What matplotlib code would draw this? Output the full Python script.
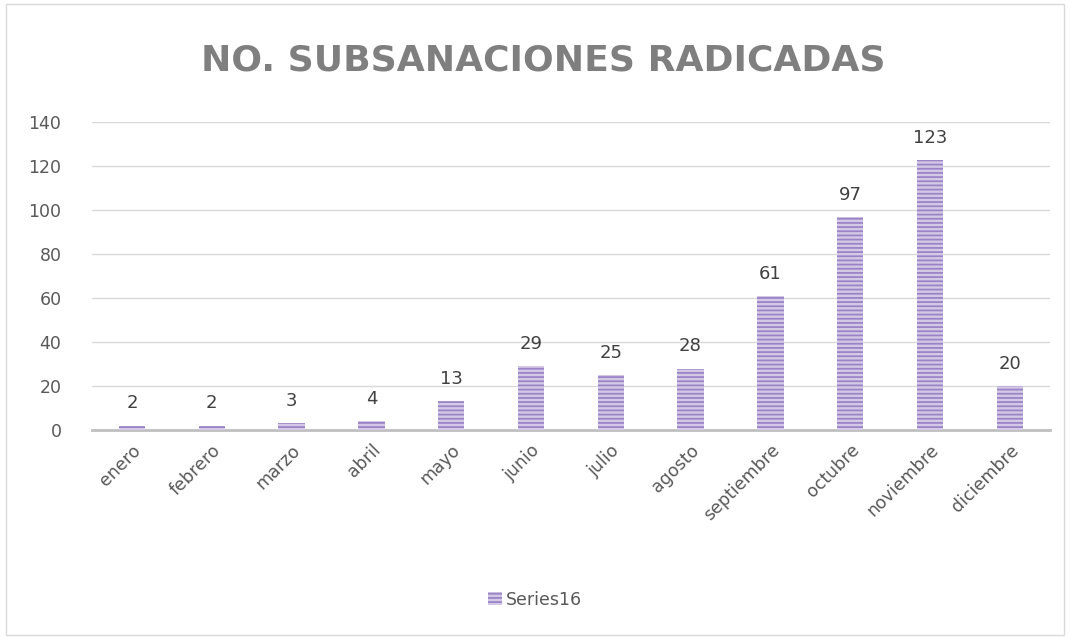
import matplotlib
matplotlib.use('Agg')
import matplotlib.pyplot as plt
from matplotlib.patches import Rectangle
import numpy as np

months = ['enero', 'febrero', 'marzo', 'abril', 'mayo', 'junio', 'julio',
          'agosto', 'septiembre', 'octubre', 'noviembre', 'diciembre']
values = [2, 2, 3, 4, 13, 29, 25, 28, 61, 97, 123, 20]
series_name = 'Series16'
title = 'NO. SUBSANACIONES RADICADAS'

plt.rcParams['hatch.linewidth'] = 1.3

fig = plt.figure(figsize=(10.7, 6.38), dpi=100)
fig.patches.append(Rectangle((0.006, 0.004), 0.988, 0.99, transform=fig.transFigure,
                             fill=False, edgecolor='#d9d9d9', linewidth=1.0))
ax = fig.add_axes([0.086, 0.326, 0.895, 0.482])

x = np.arange(len(months))
bars = ax.bar(x, values, width=0.33, color='#d3c9e7', edgecolor='#9b84c6',
              hatch='----', linewidth=0, label=series_name, zorder=3)

for xi, v in zip(x, values):
    ax.text(xi, v + 6, str(v), ha='center', va='bottom', fontsize=13, color='#404040')

ax.set_xlim(-0.5, len(months) - 0.5)
ax.set_ylim(0, 140)
ax.set_yticks(range(0, 141, 20))
ax.grid(axis='y', color='#d9d9d9', linewidth=1, zorder=0)
for s in ['top', 'right', 'left']:
    ax.spines[s].set_visible(False)
ax.spines['bottom'].set_color('#bfbfbf')
ax.spines['bottom'].set_linewidth(2)
ax.tick_params(axis='both', length=0, colors='#595959', labelsize=12.5)
ax.tick_params(axis='y', pad=22)
ax.set_xticks(x)
ax.set_xticklabels(months, rotation=45, ha='right', rotation_mode='anchor')
ax.tick_params(axis='x', pad=8)

fig.text(0.508, 0.905, title, ha='center', va='center', fontsize=26,
         fontweight='bold', color='#7f7f7f')

leg = ax.legend(loc='center', bbox_to_anchor=(0.5, 0.06), bbox_transform=fig.transFigure,
                frameon=False, fontsize=12.5, handlelength=0.8, handleheight=0.8,
                handletextpad=0.2)
for t in leg.get_texts():
    t.set_color('#595959')

fig.savefig('out.png', dpi=100)
